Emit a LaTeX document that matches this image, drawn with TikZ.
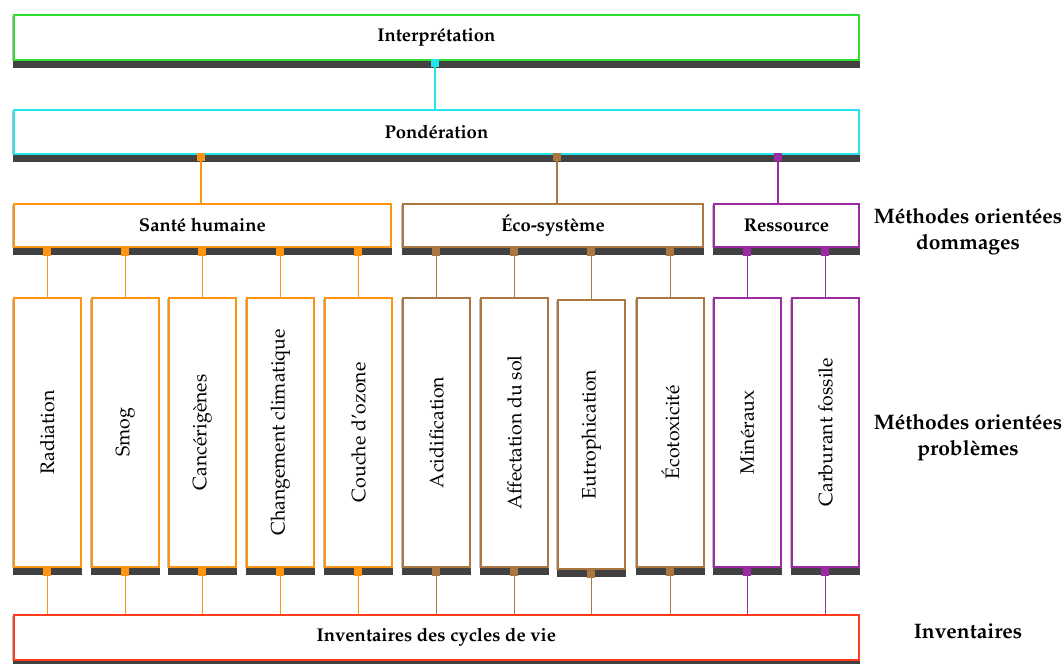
\documentclass[tikz,border=0pt]{standalone}
\usepackage[T1]{fontenc}
\usepackage{mathpazo}
\usetikzlibrary{shadows,backgrounds}

\definecolor{vertI}{HTML}{2EE02E}
\definecolor{cyanP}{HTML}{22E5EE}
\definecolor{orangeS}{HTML}{FF9412}
\definecolor{brunE}{HTML}{A9773F}
\definecolor{violetR}{HTML}{9B2AA3}
\definecolor{rougeI}{HTML}{FF3A1A}
\definecolor{barregris}{HTML}{414141}

\tikzset{
  boite/.style={draw=#1, line width=1.8pt, fill=white, inner sep=0pt, anchor=north west,
    drop shadow={shadow xshift=-1.5pt, shadow yshift=-1pt, fill=black, opacity=.25},
    font=\bfseries\fontsize{18.5}{22}\selectfont},
  colonne/.style={boite=#1, minimum width=67pt, minimum height=269pt,
    font=\fontsize{19.5}{22}\selectfont},
  barre/.style={fill=barregris},
  point/.style={fill=#1, minimum size=8pt, inner sep=0pt},
  lien/.style={draw=#1, line width=1.8pt},
  titre/.style={font=\bfseries\fontsize{21}{26}\selectfont, align=center}
}

\begin{document}
\begin{tikzpicture}[x=1pt, y=-1pt]
    \useasboundingbox (0,0) rectangle (1064,663);
    % niveaux du haut
    \node[boite=vertI, minimum width=845pt, minimum height=45pt] (interp) at (13,14) {Interprétation};
    \node[boite=cyanP, minimum width=845pt, minimum height=44pt] (pond) at (13,109) {Pondération};
    % méthodes orientées dommages
    \node[boite=orangeS, minimum width=377pt, minimum height=43pt] (sante) at (13,203) {Santé humaine};
    \node[boite=brunE, minimum width=300pt, minimum height=43pt] (eco) at (402,203) {Éco-système};
    \node[boite=violetR, minimum width=145pt, minimum height=43pt] (res) at (713,203) {Ressource};
    % inventaires
    \node[boite=rougeI, minimum width=845pt, minimum height=45pt] (inv) at (13,614) {Inventaires des cycles de vie};
    % méthodes orientées problèmes
    \foreach \x/\n/\c/\t in {13/p1/orangeS/Radiation, 91/p2/orangeS/Smog,
        168/p3/orangeS/Cancérigènes, 246/p4/orangeS/Changement climatique,
        324/p5/orangeS/Couche d'ozone, 402/p6/brunE/Acidification,
        480/p7/brunE/Affectation du sol, 636/p9/brunE/Écotoxicité,
        713/p10/violetR/Minéraux, 791/p11/violetR/Carburant fossile}
        \node[colonne=\c] (\n) at (\x,297) {\rotatebox{90}{\t}};
    \node[colonne=brunE] (p8) at (557,299) {\rotatebox{90}{Eutrophication}};
    % barres sombres sous les boites
    \begin{pgfonlayer}{background}
        \foreach \n in {interp,pond,sante,eco,res,inv,p1,p2,p3,p4,p5,p6,p7,p8,p9,p10,p11}
            \fill[barre] (\n.south west) rectangle ([yshift=-7.5pt]\n.south east);
    \end{pgfonlayer}
    % liaisons du haut
    \node[point=cyanP] (dI) at ([yshift=-4pt]435,59) {};
    \draw[lien=cyanP] (dI) -- (dI |- pond.north);
    \node[point=orangeS] (dS) at ([yshift=-4pt]201,153) {};
    \draw[lien=orangeS] (dS) -- (dS |- sante.north);
    \node[point=brunE] (dE) at ([yshift=-4pt]557,153) {};
    \draw[lien=brunE] (dE) -- (dE |- eco.north);
    \node[point=violetR] (dR) at ([yshift=-4pt]778,153) {};
    \draw[lien=violetR] (dR) -- (dR |- res.north);
    % liaisons vers les colonnes et vers les inventaires
    \foreach \n/\m/\c in {p1/sante/orangeS, p2/sante/orangeS, p3/sante/orangeS,
        p4/sante/orangeS, p5/sante/orangeS, p6/eco/brunE, p7/eco/brunE,
        p8/eco/brunE, p9/eco/brunE, p10/res/violetR, p11/res/violetR}
    {
        \node[point=\c] (h\n) at ([yshift=-4pt]\n.north |- \m.south) {};
        \draw[lien=\c] (h\n) -- (\n.north);
        \node[point=\c] (b\n) at ([yshift=-4pt]\n.south) {};
        \draw[lien=\c] (b\n) -- (b\n |- inv.north);
    }
    % titres à droite
    \node[titre] (tdom) at (968,232) {Méthodes orientées\\dommages};
    \node[titre] (tpro) at (968,438) {Méthodes orientées\\problèmes};
    \node[titre] (tinv) at (968,631) {Inventaires};
\end{tikzpicture}
\end{document}
